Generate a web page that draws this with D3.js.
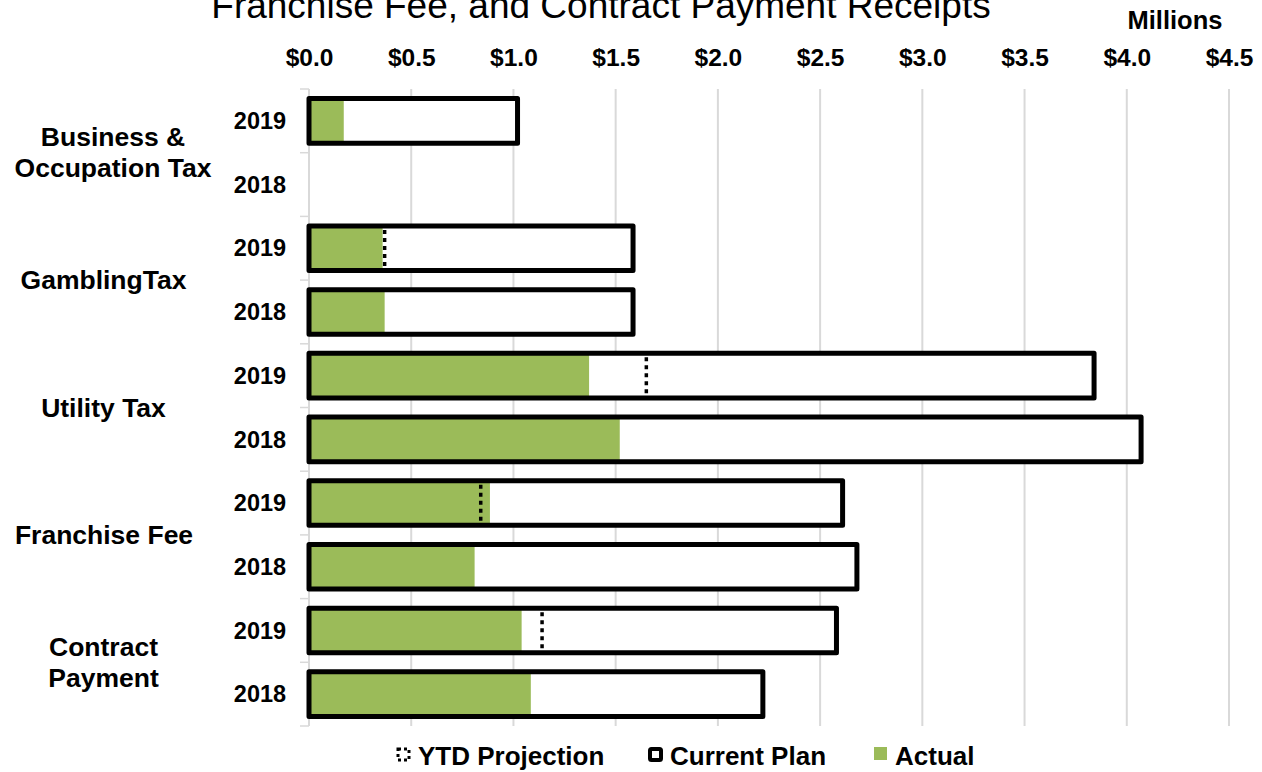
<!DOCTYPE html>
<html><head><meta charset="utf-8">
<script src="https://cdn.jsdelivr.net/npm/d3@7"></script>
<style>body{margin:0;background:#fff}svg{display:block;font-family:Arial,"Liberation Sans",sans-serif}</style>
</head><body><svg id="c" width="1262" height="772"></svg>
<script>
const categories = ["Business & Occupation Tax","GamblingTax","Utility Tax","Franchise Fee","Contract Payment"];
const categoryLines = [["Business &","Occupation Tax"],["GamblingTax"],["Utility Tax"],["Franchise Fee"],["Contract","Payment"]];
const years = ["2019","2018"];
// values in millions, [2019, 2018] per category
const planValues = [[1.02,null],[1.585,1.585],[3.84,4.07],[2.61,2.68],[2.58,2.22]];
const actualValues = [[0.17,null],[0.36,0.37],[1.37,1.52],[0.885,0.81],[1.04,1.085]];
const projectionValues = [[null,null],[0.37,null],[1.65,null],[0.84,null],[1.14,null]];
const tickValues = [0,0.5,1,1.5,2,2.5,3,3.5,4,4.5];
const titleText = "Franchise Fee, and Contract Payment Receipts";
const legendLabels = ["YTD Projection","Current Plan","Actual"];

const svg = d3.select("#c");
const pL = 309, pR = 1229, pT = 89, pB = 726;
const x = d3.scaleLinear().domain([0,4.5]).range([pL,pR]);
const rows = [];
categories.forEach((c,i)=>years.forEach((y,j)=>rows.push({cat:i,year:y,key:c+"|"+y,plan:planValues[i][j],actual:actualValues[i][j],proj:projectionValues[i][j]})));
const yb = d3.scaleBand().domain(rows.map(r=>r.key)).range([pT,pB]).paddingInner(0.3).paddingOuter(0.15);
const step = yb.step();

// gridlines
svg.append("g").selectAll("line").data(tickValues).join("line")
  .attr("x1",d=>x(d)).attr("x2",d=>x(d)).attr("y1",pT).attr("y2",pB)
  .attr("stroke","#d9d9d9").attr("stroke-width",2);
// row ticks on left
svg.append("g").selectAll("line").data(d3.range(11)).join("line")
  .attr("x1",pL-9).attr("x2",pL).attr("y1",d=>pT+d*(pB-pT)/10).attr("y2",d=>pT+d*(pB-pT)/10)
  .attr("stroke","#d9d9d9").attr("stroke-width",1.5);

// top axis labels
const ax = d3.axisTop(x).tickValues(tickValues).tickFormat(d=>"$"+d3.format(".1f")(d)).tickSize(0).tickPadding(0);
const axg = svg.append("g").attr("transform",`translate(0,66)`).call(ax);
axg.select(".domain").remove();
axg.selectAll("text").attr("font-size",24.5).attr("font-weight","bold").attr("fill","#000").attr("font-family","Arial, 'Liberation Sans', sans-serif").attr("dy",0);
svg.append("text").attr("x",1175).attr("y",29).attr("text-anchor","middle").attr("font-size",25.5).attr("font-weight","bold").text("Millions");

// title
svg.append("text").attr("x",601).attr("y",18).attr("text-anchor","middle").attr("font-size",37).text(titleText);

const bh = yb.bandwidth();
const valid = rows.filter(r=>r.plan!=null);
// plan fill
svg.append("g").selectAll("rect").data(valid).join("rect")
  .attr("x",x(0)).attr("y",d=>yb(d.key)).attr("width",d=>x(d.plan)-x(0)).attr("height",bh).attr("fill","#fff");
// actual
svg.append("g").selectAll("rect").data(rows.filter(r=>r.actual!=null)).join("rect")
  .attr("x",x(0)).attr("y",d=>yb(d.key)).attr("width",d=>x(d.actual)-x(0)).attr("height",bh).attr("fill","#9bbb59");
// projection
svg.append("g").selectAll("line").data(rows.filter(r=>r.proj!=null)).join("line")
  .attr("x1",d=>x(d.proj)).attr("x2",d=>x(d.proj)).attr("y1",d=>yb(d.key)+4).attr("y2",d=>yb(d.key)+bh-2)
  .attr("stroke","#000").attr("stroke-width",3.5).attr("stroke-dasharray","4,4");
// plan outline
svg.append("g").selectAll("rect").data(valid).join("rect")
  .attr("x",x(0)).attr("y",d=>yb(d.key)).attr("width",d=>x(d.plan)-x(0)).attr("height",bh)
  .attr("fill","none").attr("stroke","#000").attr("stroke-width",5).attr("stroke-linejoin","round");

// year labels
svg.append("g").selectAll("text").data(rows).join("text")
  .attr("x",260).attr("y",d=>yb(d.key)+bh/2).attr("dy","0.35em").attr("text-anchor","middle")
  .attr("font-size",23.5).attr("font-weight","bold").text(d=>d.year);
// category labels
const catX = [113,103.5,103.5,104,103.5];
categoryLines.forEach((lines,i)=>{
  const cy = yb(categories[i]+"|2019") - (step-bh)/2 + step;
  const t = svg.append("text").attr("text-anchor","middle").attr("font-size",26.5).attr("font-weight","bold");
  lines.forEach((l,k)=>t.append("tspan").attr("x",catX[i]).attr("y",cy + (k-(lines.length-1)/2)*31).attr("dy","0.35em").text(l));
});

// legend
const lg = svg.append("g").attr("font-size",26).attr("font-weight","bold");
lg.append("rect").attr("x",398).attr("y",749).attr("width",11).attr("height",11).attr("fill","none").attr("stroke","#000").attr("stroke-width",3).attr("stroke-dasharray","3,3");
lg.append("text").attr("x",418).attr("y",765).text(legendLabels[0]);
lg.append("rect").attr("x",650).attr("y",749).attr("width",11).attr("height",11).attr("rx",1.5).attr("fill","#fff").attr("stroke","#000").attr("stroke-width",4);
lg.append("text").attr("x",670).attr("y",765).text(legendLabels[1]);
lg.append("rect").attr("x",874).attr("y",747).attr("width",13).attr("height",13).attr("fill","#9bbb59");
lg.append("text").attr("x",895).attr("y",765).text(legendLabels[2]);
</script></body></html>
